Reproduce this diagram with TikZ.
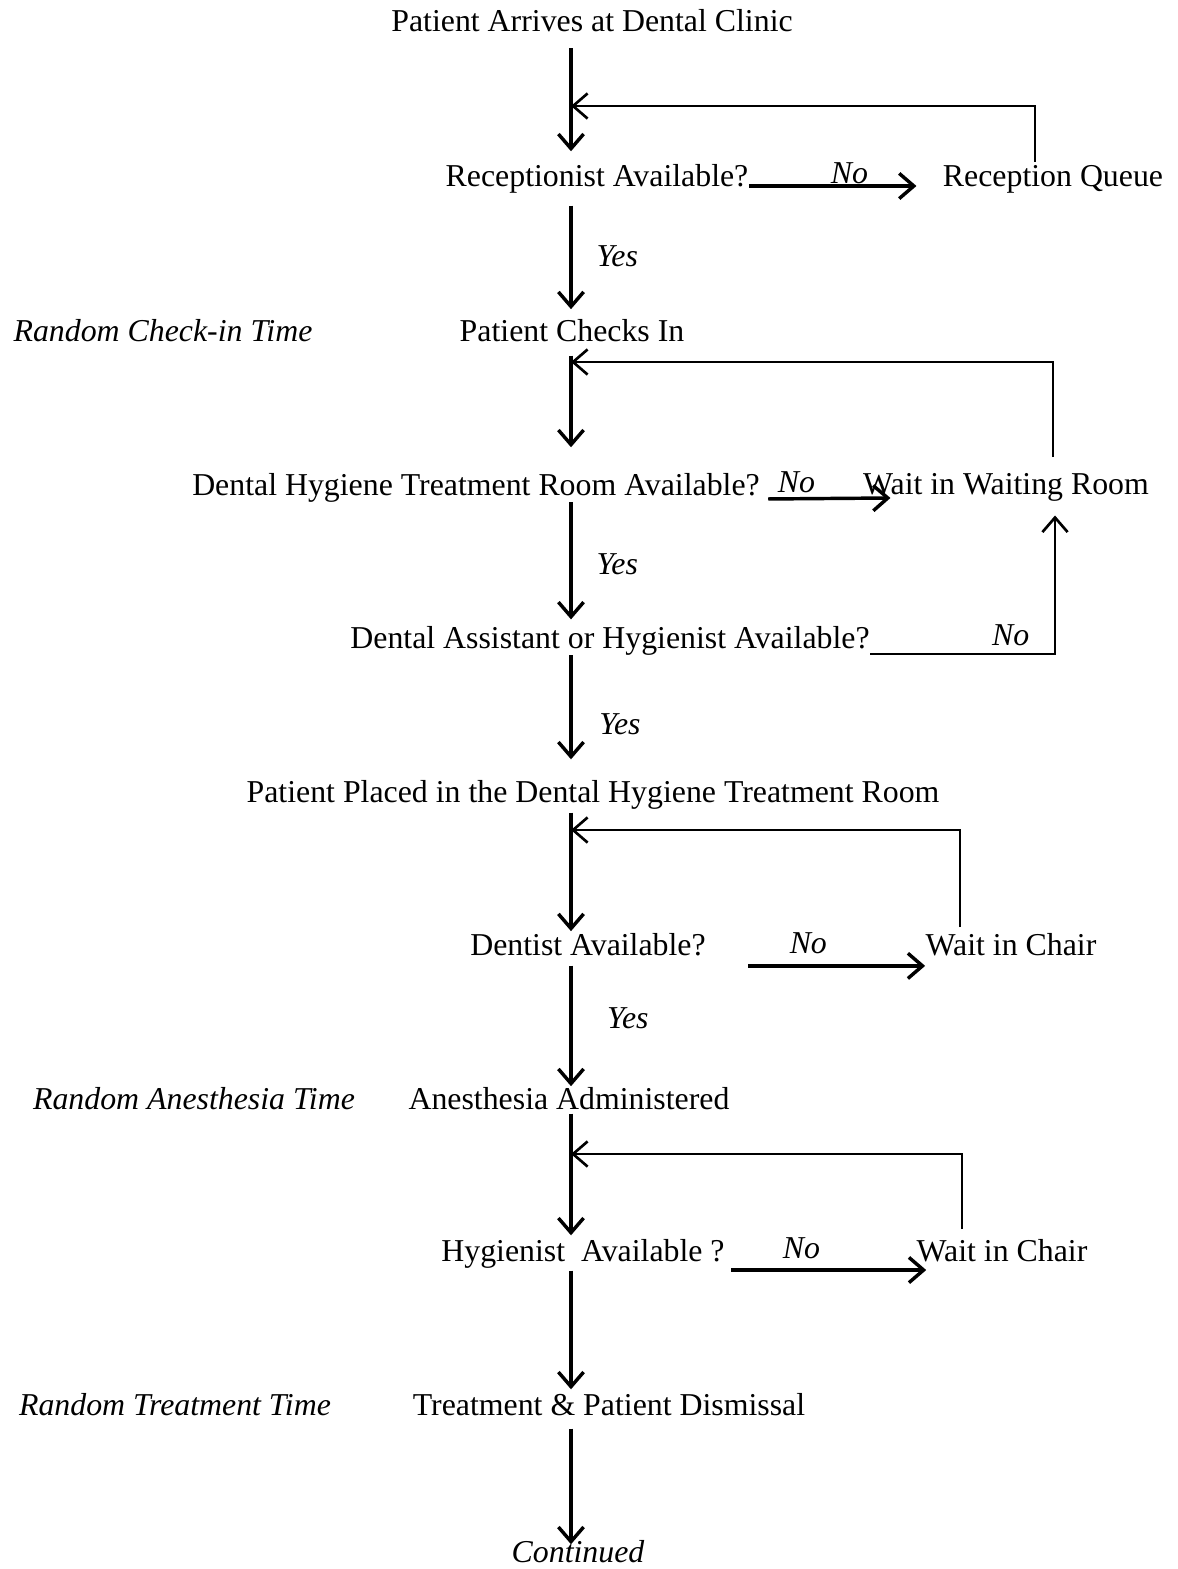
\documentclass[tikz,border=0pt]{standalone}
\usepackage{fontspec}
\setmainfont{Liberation Serif}
\usetikzlibrary{arrows.meta}

\begin{document}
\begin{tikzpicture}[x=0.377pt, y=-0.377pt,
    >={Straight Barb[length=5.5pt,width=9.5pt]},
    block/.style={inner sep=0pt, anchor=base, text height=8pt, text depth=2.5pt,
        font=\fontsize{12}{14}\selectfont},
    note/.style={block, font=\fontsize{12}{14}\selectfont\itshape},
    answer/.style={inner sep=1pt, font=\fontsize{12}{14}\selectfont\itshape},
    flow/.style={->, line width=1.3pt},
    back/.style={->, line width=1pt}
]
\useasboundingbox (0,0) rectangle (1177,1569);
\coordinate (Spine) at (571,0);
\coordinate (Turn1) at (1035,106);
\coordinate (Turn2) at (1053,362);
\coordinate (Turn3) at (1055,654);
\coordinate (Turn4) at (960,830);
\coordinate (Turn5) at (962,1154);

\node (Arrive) [block] at (592,32) {Patient Arrives at Dental Clinic};
\node (RecepAvail) [block] at (597,186) {Receptionist Available?};
\node (RecepQueue) [block] at (1053,186) {Reception Queue};
\node (CheckNote) [note] at (163,341) {Random Check-in Time};
\node (CheckIn) [block] at (572,341) {Patient Checks In};
\node (RoomAvail) [block] at (476,495) {Dental Hygiene Treatment Room Available?};
\node (WaitRoom) [block] at (1006,494) {Wait in Waiting Room};
\node (AssistAvail) [block] at (610,648) {Dental Assistant or Hygienist Available?};
\node (Placed) [block] at (593,802) {Patient Placed in the Dental Hygiene Treatment Room};
\node (DentAvail) [block] at (588,955) {Dentist Available?};
\node (Chair1) [block] at (1011,955) {Wait in Chair};
\node (AnesNote) [note] at (194,1109) {Random Anesthesia Time};
\node (Anes) [block] at (569,1109) {Anesthesia Administered};
\node (HygAvail) [block] at (583,1261) {Hygienist~~Available ?};
\node (Chair2) [block] at (1002,1261) {Wait in Chair};
\node (TreatNote) [note] at (175,1415) {Random Treatment Time};
\node (Treat) [block] at (609,1415) {Treatment \& Patient Dismissal};
\node (Cont) [note] at (578,1562) {Continued};

\draw[flow, shorten <=3.5pt, shorten >=4.9pt] (Arrive.south -| Spine) -- (RecepAvail.north -| Spine);
\draw[flow, shorten <=4.7pt, shorten >=3.8pt] (RecepAvail.south -| Spine) -- (CheckIn.north -| Spine)
    node[answer, midway, right=8pt] {Yes};
\draw[flow, shorten <=2.8pt, shorten >=9.8pt] (CheckIn.south -| Spine) -- (RoomAvail.north -| Spine);
\draw[flow, shorten >=2.6pt] (RoomAvail.south -| Spine) -- (AssistAvail.north -| Spine)
    node[answer, midway, right=8pt] {Yes};
\draw[flow, shorten >=7.9pt] (AssistAvail.south -| Spine) -- (Placed.north -| Spine)
    node[answer, pos=0.55, right=9pt] {Yes};
\draw[flow, shorten <=1.3pt, shorten >=0.8pt] (Placed.south -| Spine) -- (DentAvail.north -| Spine);
\draw[flow, shorten <=1.3pt, shorten >=0.4pt] (DentAvail.south -| Spine) -- (Anes.north -| Spine)
    node[answer, pos=0.45, right=12pt] {Yes};
\draw[flow, shorten <=-1pt, shorten >=1.5pt] (Anes.south -| Spine) -- (HygAvail.north -| Spine);
\draw[flow, shorten <=0.9pt, shorten >=1.5pt] (HygAvail.south -| Spine) -- (Treat.north -| Spine);
\draw[flow, shorten <=2.4pt, shorten >=-1.5pt] (Treat.south -| Spine) -- (Cont.north -| Spine);

\draw[flow, shorten >=9.8pt] (RecepAvail.base east) -- (RecepQueue.base west)
    node[answer, pos=0.52, above=-1pt] {No};
\draw[flow] ([xshift=3pt,yshift=-1.5pt]RoomAvail.base east) -- ([xshift=10.5pt,yshift=-1.5pt]WaitRoom.base west)
    node[answer, pos=0.23, above=0.5pt] {No};
\draw[flow] ([xshift=15.8pt,yshift=-4.1pt]DentAvail.base east) -- ([yshift=-4.1pt]Chair1.base west)
    node[answer, pos=0.34, above=3pt] {No};
\draw[flow] ([xshift=2.3pt,yshift=-3.4pt]HygAvail.base east) -- ([xshift=3.8pt,yshift=-3.4pt]Chair2.base west)
    node[answer, pos=0.36, above=2.5pt] {No};
\draw[back, shorten >=5.4pt] ([yshift=-2.3pt]AssistAvail.base east) -| (WaitRoom.south -| Turn3)
    node[answer, pos=0.38, above=1.5pt] {No};

\draw[back, shorten <=1pt] (RecepQueue.north -| Turn1) -- (Turn1) -- (Turn1 -| Spine);
\draw[back, shorten <=5.7pt] (WaitRoom.north -| Turn2) -- (Turn2) -- (Turn2 -| Spine);
\draw[back, shorten <=2.3pt] (Chair1.north -| Turn4) -- (Turn4) -- (Turn4 -| Spine);
\draw[back, shorten <=3.8pt] (Chair2.north -| Turn5) -- (Turn5) -- (Turn5 -| Spine);
\end{tikzpicture}
\end{document}
